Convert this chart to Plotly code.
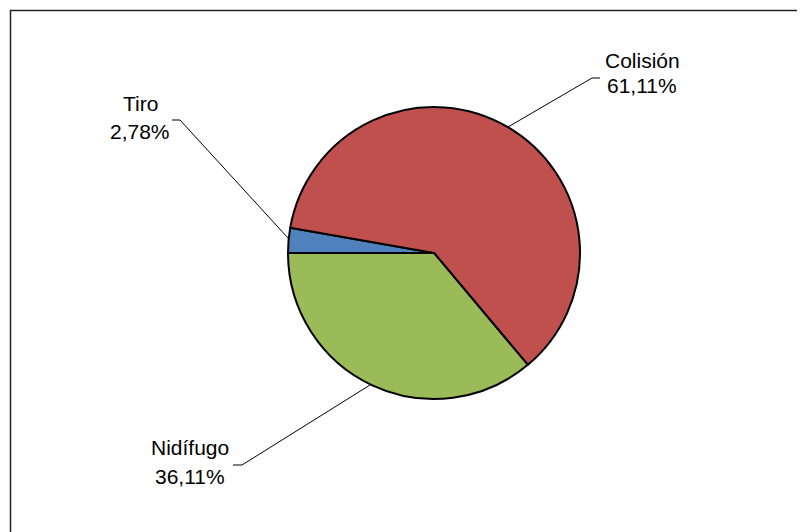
import plotly.graph_objects as go

labels = ["Tiro", "Colisión", "Nidífugo"]
values = [1, 22, 13]
colors = ["#4F81BD", "#C0504D", "#9BBB59"]

W, H = 805, 532
OFF = 8  # page body margin
def px(x):
    return (x - OFF) / W
def py(y):
    return 1 - (y - OFF) / H

total = sum(values)
pcts = [f"{v / total * 100:.2f}".replace(".", ",") + "%" for v in values]

fig = go.Figure(go.Pie(
    labels=labels, values=values, sort=False, direction="clockwise",
    rotation=270, textinfo="none", hoverinfo="label+percent",
    marker=dict(colors=colors, line=dict(color="black", width=2)),
    domain=dict(x=[px(288), px(580)], y=[py(399), py(107)]),
    showlegend=False,
))

# label positions (pixel layout), leader lines
label_pos = {
    "Tiro": (140, 103, 132),
    "Colisión": (642, 60, 85),
    "Nidífugo": (190, 447, 476),
}
leaders = {
    "Tiro": [(172, 120), (180, 120), (288, 238)],
    "Colisión": [(600, 78), (592, 78), (508, 127)],
    "Nidífugo": [(233, 465), (242, 465), (370, 385)],
}

font = dict(family="Liberation Sans, Arial", size=21, color="black")
annotations = []
for lab, pct in zip(labels, pcts):
    cx, y1, y2 = label_pos[lab]
    annotations.append(dict(text=lab, x=px(cx), y=py(y1), xref="paper", yref="paper",
                            showarrow=False, xanchor="center", yanchor="middle", font=font))
    annotations.append(dict(text=pct, x=px(cx), y=py(y2), xref="paper", yref="paper",
                            showarrow=False, xanchor="center", yanchor="middle", font=font))

shapes = []
for lab, pts in leaders.items():
    for (xa, ya), (xb, yb) in zip(pts[:-1], pts[1:]):
        shapes.append(dict(type="line", xref="paper", yref="paper",
                           x0=px(xa), y0=py(ya), x1=px(xb), y1=py(yb),
                           line=dict(color="black", width=1)))

shapes.append(dict(type="rect", xref="paper", yref="paper",
                   x0=px(10.5), y0=py(560), x1=px(830), y1=py(10.5),
                   line=dict(color="#222222", width=1.5)))

fig.update_layout(
    width=W, height=H, margin=dict(l=0, r=0, t=0, b=0),
    paper_bgcolor="white", plot_bgcolor="white",
    annotations=annotations, shapes=shapes,
)

fig.write_html("out.html")
